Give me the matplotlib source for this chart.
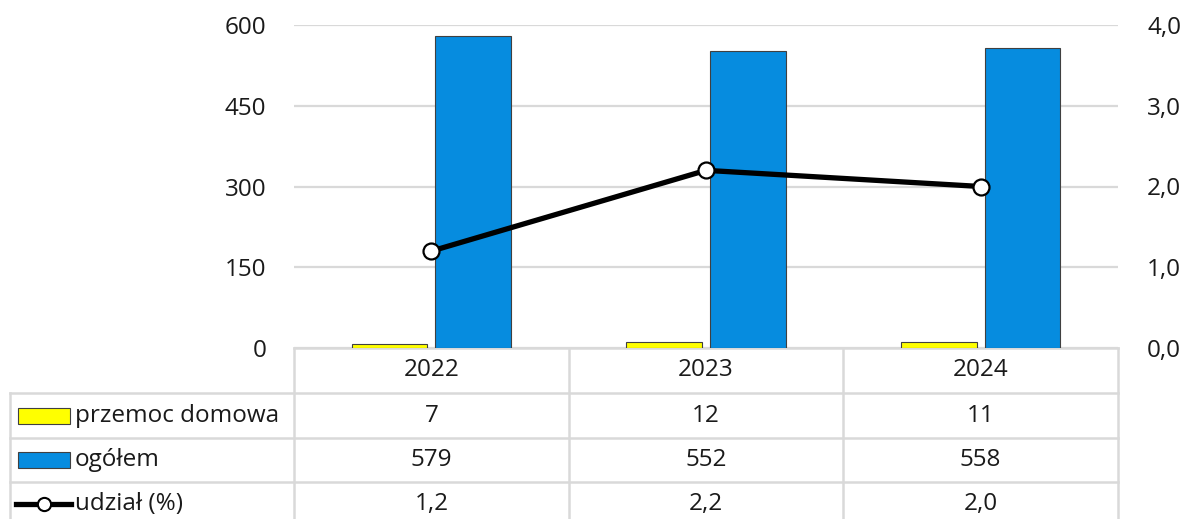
import matplotlib
matplotlib.use("Agg")
import matplotlib.pyplot as plt
import matplotlib.patches as mpatches
import numpy as np

plt.rcParams["font.family"] = ["Open Sans", "DejaVu Sans"]

# ── Data ───────────────────────────────────────────────────────────────────────
years = ["2022", "2023", "2024"]
domestic = [7, 12, 11]          # przemoc domowa
total = [579, 552, 558]         # ogółem
share = [1.2, 2.2, 2.0]         # udział (%)
share_labels = ["1,2", "2,2", "2,0"]

YELLOW = "#FFFF00"
BLUE = "#068CDF"
GRID = "#D9D9D9"
FS = 17.5

W, H = 1184, 519
fig = plt.figure(figsize=(W / 100, H / 100), dpi=100)

# plot area in pixels
x0, x1, ytop, ybot = 294, 1118, 25, 348
ax = fig.add_axes([x0 / W, 1 - ybot / H, (x1 - x0) / W, (ybot - ytop) / H])

idx = np.arange(len(years))
bw = 0.275
ax.bar(idx - 0.152, domestic, bw, color=YELLOW, edgecolor="#404040", linewidth=0.8, zorder=3)
ax.bar(idx + 0.152, total, bw, color=BLUE, edgecolor="#404040", linewidth=0.8, zorder=3)

ax.set_xlim(-0.5, len(years) - 0.5)
ax.set_ylim(0, 600)
ax.set_yticks([0, 150, 300, 450, 600])
ax.set_yticklabels(["0", "150", "300", "450", "600"])
ax.set_xticks([])
ax.grid(axis="y", color=GRID, linewidth=1.6, zorder=0)
ax.set_axisbelow(True)
for s in ax.spines.values():
    s.set_visible(False)
ax.tick_params(axis="y", length=0, pad=20, labelsize=FS, labelcolor="#1a1a1a")

ax2 = ax.twinx()
ax2.plot(idx, share, color="black", linewidth=3.8, marker="o", markersize=11.5,
         markerfacecolor="white", markeredgecolor="black", markeredgewidth=1.6,
         zorder=5, clip_on=False)
ax2.set_ylim(0, 4)
ax2.set_yticks([0, 1, 2, 3, 4])
ax2.set_yticklabels(["0,0", "1,0", "2,0", "3,0", "4,0"])
for s in ax2.spines.values():
    s.set_visible(False)
ax2.tick_params(axis="y", length=0, pad=21, labelsize=FS, labelcolor="#1a1a1a")

# ── Data table below the plot (pixel coordinates) ─────────────────────────────
tab = fig.add_axes([0, 0, 1, 1], zorder=-1)
tab.set_xlim(0, W)
tab.set_ylim(H, 0)
tab.axis("off")

col_edges = [294, 569, 843, 1118]
row_edges = [348, 393, 438, 482, 526]
left = 10
lw = 1.8

# horizontal lines
tab.plot([col_edges[0], col_edges[-1]], [row_edges[0]] * 2, color=GRID, lw=lw)
for y in row_edges[1:4]:
    tab.plot([left, col_edges[-1]], [y, y], color=GRID, lw=lw)
# vertical lines
for x in col_edges:
    tab.plot([x, x], [row_edges[0], H], color=GRID, lw=lw)
tab.plot([left, left], [row_edges[1], H], color=GRID, lw=lw)

centers = [(a + b) / 2 for a, b in zip(col_edges[:-1], col_edges[1:])]
rc = [(a + b) / 2 for a, b in zip(row_edges[:-1], row_edges[1:])]

for cx, yr in zip(centers, years):
    tab.text(cx, rc[0], yr, ha="center", va="center", fontsize=FS, color="#1a1a1a")
for cx, v in zip(centers, domestic):
    tab.text(cx, rc[1], str(v), ha="center", va="center", fontsize=FS, color="#1a1a1a")
for cx, v in zip(centers, total):
    tab.text(cx, rc[2], str(v), ha="center", va="center", fontsize=FS, color="#1a1a1a")
for cx, v in zip(centers, share_labels):
    tab.text(cx, rc[3], v, ha="center", va="center", fontsize=FS, color="#1a1a1a")

# legend keys inside the table
tab.add_patch(mpatches.Rectangle((18, rc[1] - 8), 52, 16, facecolor=YELLOW,
                                 edgecolor="#404040", lw=0.8))
tab.add_patch(mpatches.Rectangle((18, rc[2] - 8), 52, 16, facecolor=BLUE,
                                 edgecolor="#404040", lw=0.8))
tab.plot([16, 71], [rc[3], rc[3]], color="black", lw=3.8)
tab.plot([43.5], [rc[3]], marker="o", markersize=9.5, markerfacecolor="white",
         markeredgecolor="black", markeredgewidth=1.5)

for y, lab in zip(rc[1:], ["przemoc domowa", "ogółem", "udział (%)"]):
    tab.text(75, y, lab, ha="left", va="center", fontsize=FS, color="#1a1a1a")

fig.savefig("out.png", dpi=100)
